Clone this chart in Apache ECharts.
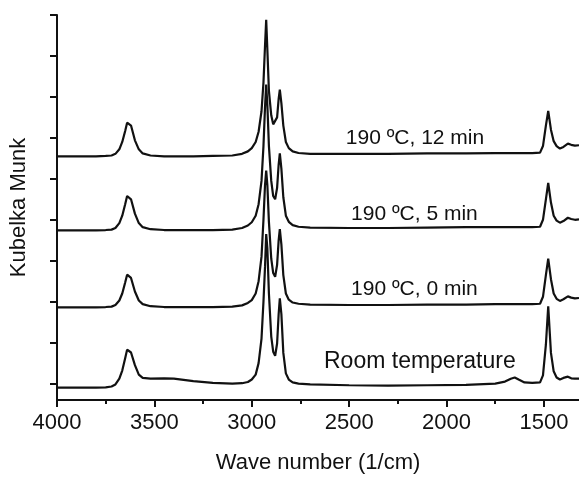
<!DOCTYPE html>
<html>
<head>
<meta charset="utf-8">
<script src="https://cdn.jsdelivr.net/npm/echarts@6/dist/echarts.min.js"></script>
<style>
  html, body { margin: 0; padding: 0; background: #fff; }
  #chart { width: 579px; height: 479px; }
</style>
</head>
<body>
<div id="chart"></div>
<script>
// wave numbers (1/cm), shared by all four spectra
var waveNumbers = [4000, 3900, 3800, 3750, 3720, 3700, 3680, 3665, 3650, 3640, 3630, 3620, 3600, 3580, 3560, 3520,
  3450, 3400, 3300, 3200, 3100, 3050, 3020, 3000, 2980, 2965, 2950, 2940, 2932, 2926, 2920, 2912, 2900, 2890,
  2880, 2870, 2862, 2856, 2848, 2838, 2825, 2810, 2790, 2760, 2700, 2500, 2300, 2100, 1900, 1750, 1700, 1670,
  1650, 1630, 1600, 1560, 1520, 1505, 1490, 1478, 1464, 1450, 1435, 1418, 1400, 1377, 1360, 1341, 1320];

// 190 ºC, 12 min (top)
var km12min = [5.55, 5.55, 5.55, 5.56, 5.57, 5.61, 5.72, 5.90, 6.17, 6.37, 6.39, 6.30, 5.94, 5.72, 5.62, 5.57,
  5.55, 5.55, 5.55, 5.56, 5.57, 5.61, 5.67, 5.75, 5.90, 6.15, 6.65, 7.35, 8.25, 8.88, 8.15, 7.15, 6.55, 6.33,
  6.30, 6.50, 6.95, 7.18, 6.85, 6.30, 5.90, 5.75, 5.67, 5.63, 5.61, 5.61, 5.61, 5.62, 5.62, 5.63, 5.63, 5.63,
  5.63, 5.63, 5.63, 5.63, 5.64, 5.80, 6.30, 6.66, 6.20, 5.92, 5.80, 5.74, 5.78, 5.86, 5.83, 5.81, 5.82];

// 190 ºC, 5 min
var km5min = [3.74, 3.74, 3.74, 3.75, 3.76, 3.80, 3.92, 4.10, 4.38, 4.58, 4.61, 4.50, 4.15, 3.92, 3.82, 3.77,
  3.75, 3.75, 3.75, 3.75, 3.76, 3.80, 3.86, 3.94, 4.10, 4.38, 4.95, 5.80, 6.75, 7.30, 6.80, 5.80, 4.95, 4.58,
  4.50, 4.78, 5.35, 5.62, 5.25, 4.55, 4.10, 3.95, 3.87, 3.83, 3.81, 3.80, 3.80, 3.81, 3.82, 3.82, 3.82, 3.82,
  3.82, 3.82, 3.82, 3.82, 3.83, 4.00, 4.50, 4.90, 4.42, 4.10, 3.98, 3.93, 3.97, 4.05, 4.02, 4.00, 4.01];

// 190 ºC, 0 min
var km0min = [1.86, 1.86, 1.86, 1.87, 1.88, 1.92, 2.03, 2.20, 2.47, 2.66, 2.68, 2.58, 2.25, 2.03, 1.94, 1.89,
  1.87, 1.87, 1.87, 1.87, 1.88, 1.91, 1.97, 2.04, 2.20, 2.50, 3.10, 4.00, 4.85, 5.20, 4.85, 3.95, 3.05, 2.70,
  2.61, 2.90, 3.50, 3.77, 3.40, 2.65, 2.20, 2.05, 1.98, 1.95, 1.93, 1.92, 1.92, 1.93, 1.93, 1.94, 1.94, 1.94,
  1.94, 1.94, 1.94, 1.94, 1.95, 2.12, 2.65, 3.05, 2.55, 2.20, 2.07, 2.02, 2.06, 2.13, 2.10, 2.08, 2.09];

// Room temperature (bottom)
var kmRoom = [-0.10, -0.10, -0.10, -0.09, -0.07, -0.02, 0.12, 0.32, 0.62, 0.83, 0.86, 0.76, 0.45, 0.22, 0.14, 0.12,
  0.13, 0.12, 0.06, 0.02, 0.00, 0.01, 0.04, 0.10, 0.22, 0.50, 1.10, 2.00, 2.85, 3.65, 3.30, 2.20, 1.15, 0.78,
  0.68, 0.98, 1.70, 2.08, 1.70, 0.75, 0.25, 0.10, 0.03, 0.00, -0.02, -0.04, -0.05, -0.04, -0.03, 0.00, 0.05, 0.12,
  0.15, 0.10, 0.03, 0.02, 0.03, 0.20, 0.95, 1.89, 0.75, 0.30, 0.15, 0.10, 0.14, 0.17, 0.13, 0.12, 0.12];

var seriesNames = ['190 ºC, 12 min', '190 ºC, 5 min', '190 ºC, 0 min', 'Room temperature'];
var xTickLabels = [4000, 3500, 3000, 2500, 2000, 1500];
var xMinorTicks = [3750, 3250, 2750, 2250, 1750];
var yTicks = [0, 1, 2, 3, 4, 5, 6, 7, 8, 9];

var myChart = echarts.init(document.getElementById('chart'));

var font = '"Liberation Sans", Arial, sans-serif';
var ink = '#111';

function makeSeries(name, values, labelAt, fontSize) {
    return {
        name: name,
        type: 'line',
        data: waveNumbers.map(function (w, i) { return [w, values[i]]; }),
        showSymbol: false,
        lineStyle: { color: ink, width: 2.2 },
        markPoint: {
            symbol: 'circle',
            symbolSize: 0,
            silent: true,
            label: {
                show: true,
                position: 'inside',
                formatter: name,
                color: ink,
                fontFamily: font,
                fontSize: fontSize
            },
            data: [{ coord: labelAt }]
        }
    };
}

var option = {
    animation: false,
    backgroundColor: '#fff',
    grid: { left: 57, right: 0, top: 15, bottom: 74 },
    xAxis: [{
        type: 'value',
        inverse: true,
        min: 1320,
        max: 4000,
        name: 'Wave number (1/cm)',
        nameLocation: 'middle',
        nameGap: 52,
        nameTextStyle: { color: ink, fontFamily: font, fontSize: 22 },
        axisLine: { onZero: false, lineStyle: { color: ink, width: 2 } },
        axisTick: { show: true, length: 7, lineStyle: { color: ink, width: 2 }, customValues: xTickLabels },
        axisLabel: {
            color: ink, fontFamily: font, fontSize: 22, margin: 12, customValues: xTickLabels,
            formatter: function (v) { return String(v); }
        },
        splitLine: { show: false }
    }, {
        // minor ticks
        type: 'value',
        inverse: true,
        min: 1320,
        max: 4000,
        position: 'bottom',
        axisLine: { show: false, onZero: false },
        axisTick: { show: true, length: 4, lineStyle: { color: ink, width: 2 }, customValues: xMinorTicks },
        axisLabel: { show: false },
        splitLine: { show: false }
    }],
    yAxis: {
        type: 'value',
        min: -0.4,
        max: 9,
        name: 'Kubelka Munk',
        nameLocation: 'middle',
        nameGap: 27,
        nameTextStyle: { color: ink, fontFamily: font, fontSize: 22 },
        axisLine: { show: true, onZero: false, lineStyle: { color: ink, width: 2 } },
        axisTick: { show: true, length: 7, lineStyle: { color: ink, width: 2 }, customValues: yTicks },
        axisLabel: { show: false },
        splitLine: { show: false }
    },
    series: [
        makeSeries(seriesNames[0], km12min, [2162, 6.0], 21),
        makeSeries(seriesNames[1], km5min, [2165, 4.13], 21),
        makeSeries(seriesNames[2], km0min, [2165, 2.30], 21),
        makeSeries(seriesNames[3], kmRoom, [2137, 0.54], 23)
    ]
};
myChart.setOption(option);
</script>
</body>
</html>
